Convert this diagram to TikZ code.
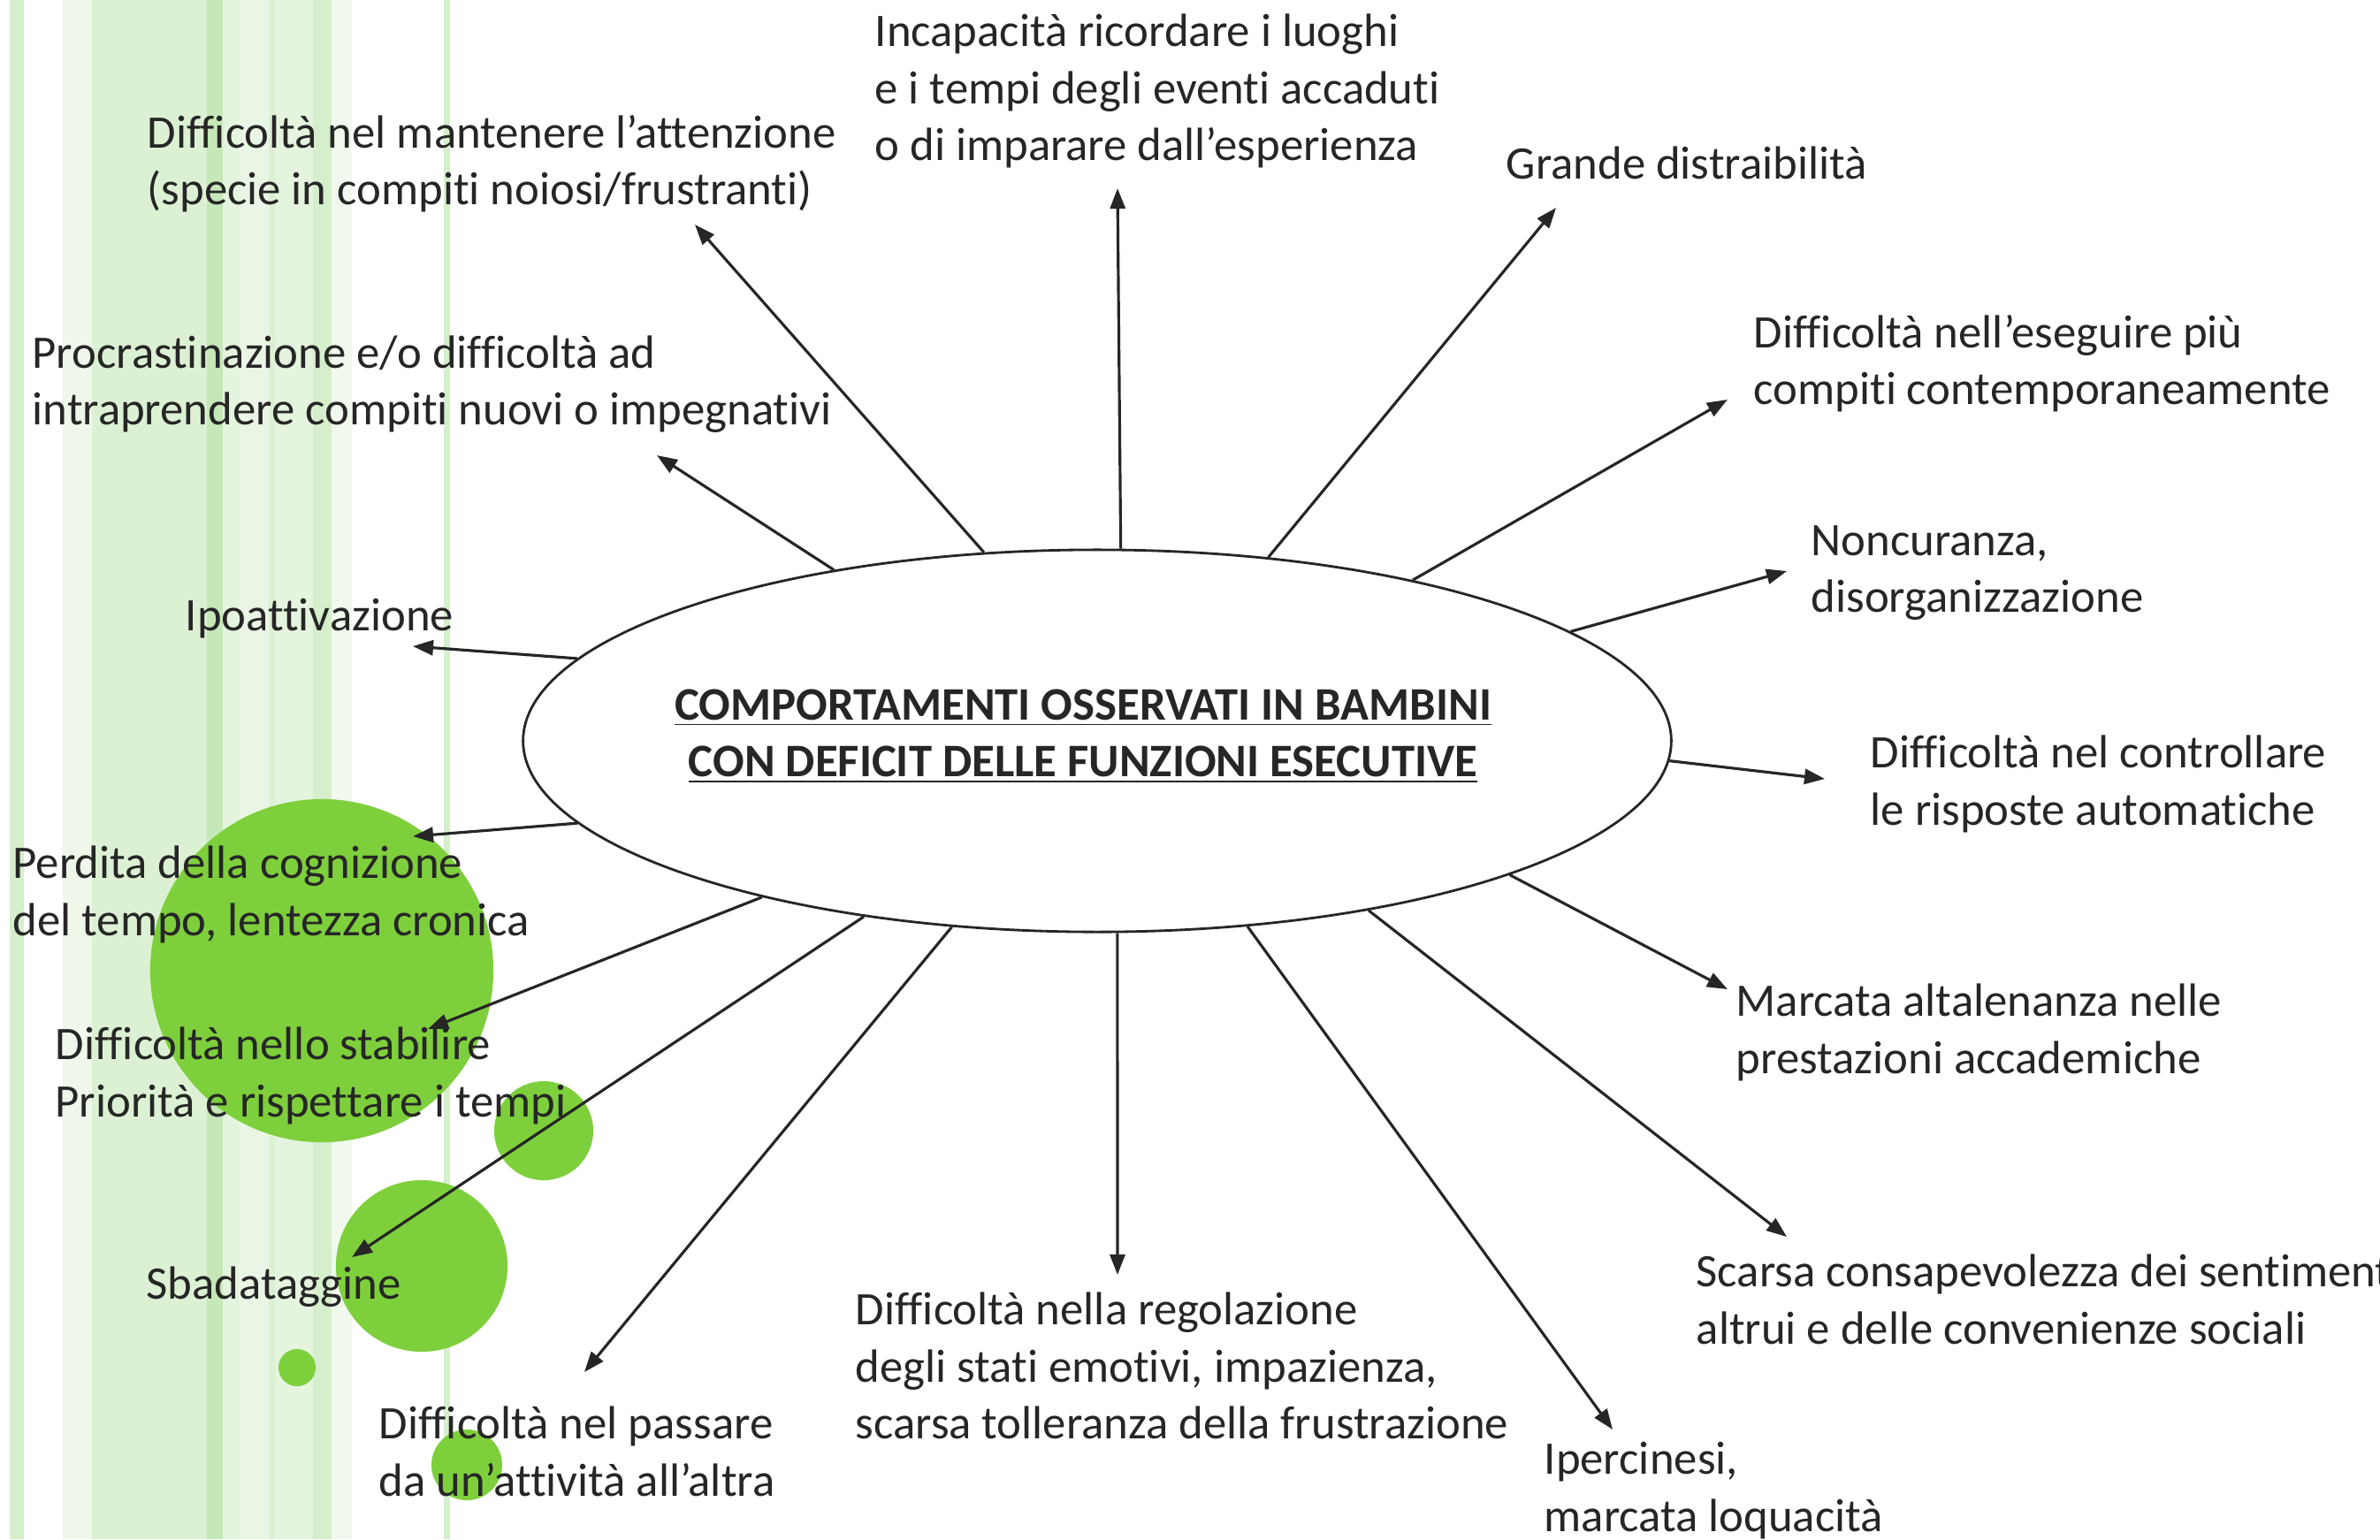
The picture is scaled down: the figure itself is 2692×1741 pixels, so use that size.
\documentclass[tikz,border=0pt]{standalone}
\usepackage{fontspec}
\setmainfont{Carlito}[Ligatures=NoCommon]
\usepackage{tikz}
\usetikzlibrary{shapes.geometric,arrows.meta}
\definecolor{verde}{RGB}{126,207,60}
\definecolor{sA}{RGB}{213,238,203}
\definecolor{sB}{RGB}{238,247,234}
\definecolor{sC}{RGB}{220,241,211}
\definecolor{sD}{RGB}{198,232,185}
\definecolor{sE}{RGB}{228,244,222}
\definecolor{sF}{RGB}{234,246,229}
\definecolor{sG}{RGB}{241,249,238}
\definecolor{testo}{RGB}{38,38,38}
\newcommand\testofont{\fontsize{15pt}{18.3pt}\selectfont}
\def\EllW{12.98cm}
\def\EllH{4.32cm}

\begin{document}
\begin{tikzpicture}[x=0.01cm,y=-0.01cm,
    voce/.style={anchor=west,align=left,inner sep=0pt,font=\testofont,text=testo},
    freccia/.style={-{Triangle[length=0.23cm,width=0.17cm]},line width=0.9pt,draw=testo},
    bolla/.style={fill=verde,draw=none}]
  \useasboundingbox (0,0) rectangle (2692,1741);
  \clip (0,0) rectangle (2692,1741);
  % 
  % strisce di sfondo
  \fill[sA] (11,0) rectangle (27,1741);
  \fill[sB] (71,0) rectangle (104,1741);
  \fill[sC] (104,0) rectangle (234,1741);
  \fill[sD] (234,0) rectangle (252,1741);
  \fill[sE] (252,0) rectangle (270,1741);
  \fill[sF] (270,0) rectangle (304,1741);
  \fill[sC] (304,0) rectangle (311,1741);
  \fill[sE] (311,0) rectangle (354,1741);
  \fill[sA] (354,0) rectangle (375,1741);
  \fill[sG] (375,0) rectangle (398,1741);
  \fill[sA] (502,0) rectangle (509,1741);
  % 
  % bolle verdi
  \fill[bolla] (364,1098) circle[radius=1.94cm];
  \fill[bolla] (615,1279) circle[radius=0.56cm];
  \fill[bolla] (477,1432) circle[radius=0.97cm];
  \fill[bolla] (336,1547) circle[radius=0.21cm];
  \fill[bolla] (528,1657) circle[radius=0.40cm];
  % 
  % ellisse centrale
  \node[ellipse,draw=testo,line width=0.8pt,minimum width=\EllW,minimum height=\EllH,inner sep=0pt] (cfe) at (1241,838) {};
  \node[font=\testofont\bfseries,align=center,text=testo,inner sep=0pt] (titolo) at (1225,833)
    {\underline{COMPORTAMENTI OSSERVATI IN BAMBINI}\\\underline{CON DEFICIT DELLE FUNZIONI ESECUTIVE}};
  % 
  % voci
  \node[voce] (attenzione) at (166,185) {Difficoltà nel mantenere l’attenzione\\(specie in compiti noiosi/frustranti)};
  \node[voce] (ricordare) at (989,103) {Incapacità ricordare i luoghi\\e i tempi degli eventi accaduti\\o di imparare dall’esperienza};
  \node[voce] (distraibilita) at (1703,184) {Grande distraibilità};
  \node[voce] (contemporanei) at (1983,411) {Difficoltà nell’eseguire più\\compiti contemporaneamente};
  \node[voce] (noncuranza) at (2048,648) {Noncuranza,\\disorganizzazione};
  \node[voce] (controllo) at (2115,887) {Difficoltà nel controllare\\le risposte automatiche};
  \node[voce] (altalenanza) at (1963,1168) {Marcata altalenanza nelle\\prestazioni accademiche};
  \node[voce] (consapevolezza) at (1918,1470) {Scarsa consapevolezza dei sentimenti\\altrui e delle convenienze sociali};
  \node[voce] (ipercinesi) at (1746,1686) {Ipercinesi,\\marcata loquacità};
  \node[voce] (regolazione) at (967,1545) {Difficoltà nella regolazione\\degli stati emotivi, impazienza,\\scarsa tolleranza della frustrazione};
  \node[voce] (passare) at (428,1642) {Difficoltà nel passare\\da un’attività all’altra};
  \node[voce] (sbadataggine) at (165,1456) {Sbadataggine};
  \node[voce] (priorita) at (62,1217) {Difficoltà nello stabilire\\Priorità e rispettare i tempi};
  \node[voce] (tempo) at (14,1012) {Perdita della cognizione\\del tempo, lentezza cronica};
  \node[voce] (ipoattivazione) at (209,700) {Ipoattivazione};
  \node[voce] (procrastinazione) at (36,435) {Procrastinazione e/o difficoltà ad\\intraprendere compiti nuovi o impegnativi};
  % 
  % punte delle frecce
  \coordinate (pa) at (786,254);
  \coordinate (pb) at (1264,213);
  \coordinate (pc) at (1760,235);
  \coordinate (pd) at (1954,452);
  \coordinate (pe) at (2021,646);
  \coordinate (pf) at (2064,881);
  \coordinate (pg) at (1954,1119);
  \coordinate (ph) at (2021,1399);
  \coordinate (pi) at (1824,1617);
  \coordinate (pj) at (1264,1442);
  \coordinate (pk) at (661,1552);
  \coordinate (pl) at (398,1422);
  \coordinate (pm) at (484,1164);
  \coordinate (pn) at (467,946);
  \coordinate (po) at (467,731);
  \coordinate (pp) at (743,515);
  % 
  \foreach \ang/\punta in {121/pa,83.9/pb,47.8/pc,27.7/pd,13.5/pe,-2.1/pf,-18.5/pg,-32.6/ph,
      -51.3/pi,-84/pj,-128.2/pk,-143.2/pl,-155.8/pm,-171.6/pn,171.7/po,147.4/pp}
    \draw[freccia] (cfe.\ang) -- (\punta);
\end{tikzpicture}
\end{document}
